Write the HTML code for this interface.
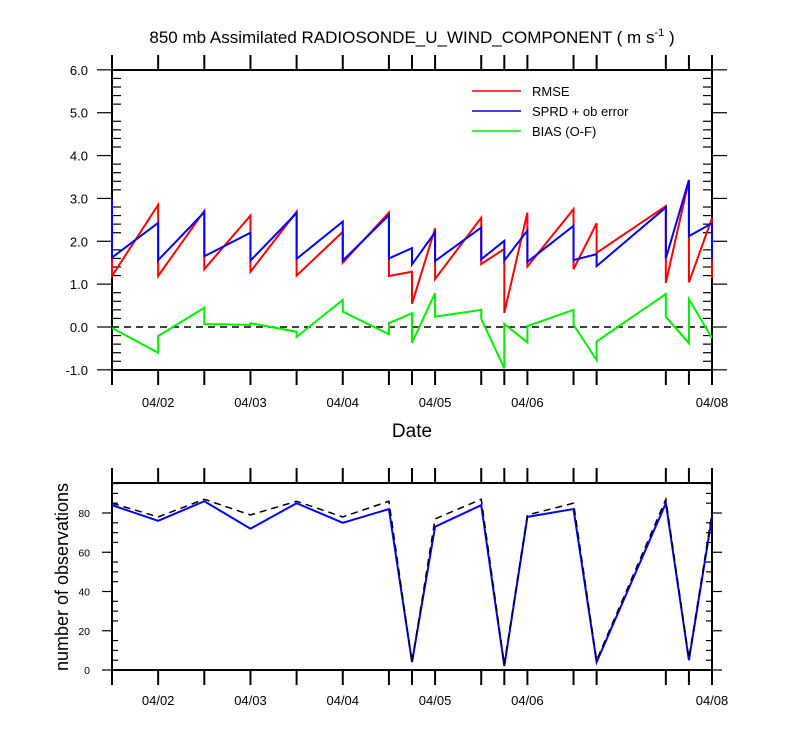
<!DOCTYPE html>
<html><head><meta charset="utf-8"><style>
body{margin:0;background:#fff}
svg{display:block;font-family:"Liberation Sans",sans-serif}
</style></head><body>
<svg id="c" width="800" height="750" viewBox="0 0 800 750"></svg>
<script>
// Observation times (hours since 04/01 12Z)
const times=[0,12,24,36,48,60,72,78,84,96,102,108,120,126,144,150,156];
// per-interval start/end values
const rmseStart=[1.19,1.19,1.35,1.29,1.20,1.50,1.19,0.54,1.12,1.47,0.33,1.41,1.35,1.73,1.03,1.04];
const rmseEnd  =[2.85,2.71,2.60,2.69,2.22,2.67,1.29,2.30,2.55,1.82,2.67,2.75,2.42,2.82,3.43,2.54];
const sprdStart=[1.62,1.56,1.65,1.55,1.59,1.55,1.60,1.46,1.54,1.58,1.55,1.52,1.56,1.42,1.60,2.12];
const sprdEnd  =[2.43,2.68,2.20,2.66,2.46,2.61,1.84,2.21,2.32,2.01,2.25,2.36,1.70,2.79,3.43,2.42];
const biasStart=[-0.02,-0.21,0.07,0.09,-0.23,0.36,0.09,-0.37,0.24,0.19,0.07,0.02,0.05,-0.34,0.24,0.65];
const biasEnd  =[-0.60,0.45,0.05,-0.11,0.63,-0.17,0.32,0.79,0.40,-0.96,-0.36,0.40,-0.77,0.77,-0.38,-0.26];
// values just outside the window (edge verticals)
const rmseLead=[2.96], rmseTrail=[1.14];
const sprdLead=[2.96], sprdTrail=[1.56];
const biasLead=[-0.02], biasTrail=[-0.26];
// observation counts
const nUsed =[84,76,86,72,85,75,82,4,73,84,2,78,82,4,85,5,78];
const nTotal=[85,78,87,79,86,78,86,4,77,87,3,79,85,5,87,6,80];
const dayLabels=["04/02","04/03","04/04","04/05","04/06","04/08"];
const dayHours=[12,36,60,84,108,156];
const yTicksTop=[-1,0,1,2,3,4,5,6];
const yTicksBot=[0,20,40,60,80];

const S='http://www.w3.org/2000/svg';
const svg=document.getElementById('c');
function mk(t,a,p){const e=document.createElementNS(S,t);for(const k in a)e.setAttribute(k,a[k]);(p||svg).appendChild(e);return e;}
const X0=112,X1=712;
const x=h=>X0+(X1-X0)*h/156;
const yT=v=>327-v*42.857;
const yB=v=>670-v*1.9625;

let t=mk('text',{x:412,y:43,'text-anchor':'middle','font-size':17});

t.innerHTML='850 mb Assimilated RADIOSONDE_U_WIND_COMPONENT ( m s<tspan dy="-7" font-size="11">-1</tspan><tspan dy="7"> )</tspan>';

function frame(top,bot,name){
  const r=mk('rect',{x:X0,y:top,width:X1-X0,height:bot-top,fill:'none',stroke:'#000','stroke-width':2});
  
  const g=mk('g',{stroke:'#000','stroke-width':2});
  
  times.forEach(h=>{mk('line',{x1:x(h),x2:x(h),y1:top,y2:top-15},g);mk('line',{x1:x(h),x2:x(h),y1:bot,y2:bot+15},g);});
}
frame(70,370,'top-plot-frame');
let g=mk('g',{stroke:'#000','stroke-width':1.2});

for(let v=-1;v<=6.001;v+=0.2){const yy=yT(v);const maj=Math.abs(v-Math.round(v))<0.01;
  if(maj){mk('line',{x1:X0-15,x2:X0,y1:yy,y2:yy},g);mk('line',{x1:X1,x2:X1+15,y1:yy,y2:yy},g);}
  else{mk('line',{x1:X0,x2:X0+9,y1:yy,y2:yy},g);mk('line',{x1:X1-9,x2:X1,y1:yy,y2:yy},g);}}
yTicksTop.forEach(v=>{const e=mk('text',{x:88,y:yT(v)+5,'text-anchor':'end','font-size':13});e.textContent=v.toFixed(1);
  });
dayHours.forEach((h,i)=>{const e=mk('text',{x:x(h),y:407,'text-anchor':'middle','font-size':13});e.textContent=dayLabels[i];
  
  const e2=mk('text',{x:x(h),y:705,'text-anchor':'middle','font-size':13});e2.textContent=dayLabels[i];
  });
t=mk('text',{x:412,y:437,'text-anchor':'middle','font-size':19});t.textContent='Date';

let zl=mk('line',{x1:X0,x2:X1,y1:yT(0),y2:yT(0),stroke:'#000','stroke-width':1.5,'stroke-dasharray':'7,5'});

function saw(st,en,lead,trail,col,name){let d='M'+x(times[0])+','+yT(lead[0]);
  for(let i=0;i<st.length;i++){d+='L'+x(times[i])+','+yT(st[i])+'L'+x(times[i+1])+','+yT(en[i]);}
  d+='L'+x(times[times.length-1])+','+yT(trail[0]);
  const p=mk('path',{d:d,fill:'none',stroke:col,'stroke-width':2});}
saw(biasStart,biasEnd,biasLead,biasTrail,'#00ee00','bias-line');
saw(rmseStart,rmseEnd,rmseLead,rmseTrail,'#ff0000','rmse-line');
saw(sprdStart,sprdEnd,sprdLead,sprdTrail,'#0000ff','sprd-line');
[['RMSE','#ff0000'],['SPRD + ob error','#0000ff'],['BIAS (O-F)','#00ee00']].forEach((l,i)=>{
  const lg=mk('g',{});
  mk('line',{x1:472,x2:521,y1:91+i*20,y2:91+i*20,stroke:l[1],'stroke-width':1.5},lg);
  const e=mk('text',{x:532,y:96+i*20,'font-size':13},lg);e.textContent=l[0];});
frame(483,670,'bottom-plot-frame');
g=mk('g',{stroke:'#000','stroke-width':1.2});

for(let v=0;v<=95;v+=5){const yy=yB(v);
  if(v%20==0){mk('line',{x1:X0-10,x2:X0,y1:yy,y2:yy},g);mk('line',{x1:X1,x2:X1+10,y1:yy,y2:yy},g);}
  else{mk('line',{x1:X0,x2:X0+6,y1:yy,y2:yy},g);mk('line',{x1:X1-6,x2:X1,y1:yy,y2:yy},g);}}
yTicksBot.forEach(v=>{const e=mk('text',{x:90,y:yB(v)+4,'text-anchor':'end','font-size':10.5});e.textContent=v;
  });
t=mk('text',{x:0,y:0,'text-anchor':'middle','font-size':18,transform:'translate(68,577) rotate(-90)'});t.textContent='number of observations';

function poly(arr,col,name,dash){const p=mk('polyline',{points:arr.map((v,i)=>x(times[i])+','+yB(v)).join(' '),fill:'none',stroke:col,'stroke-width':dash?1.5:2});
  if(dash)p.setAttribute('stroke-dasharray','7,5');}
poly(nUsed,'#0000ff','obs-used-line');
poly(nTotal,'#000','obs-total-line',true);
</script>
</body></html>
